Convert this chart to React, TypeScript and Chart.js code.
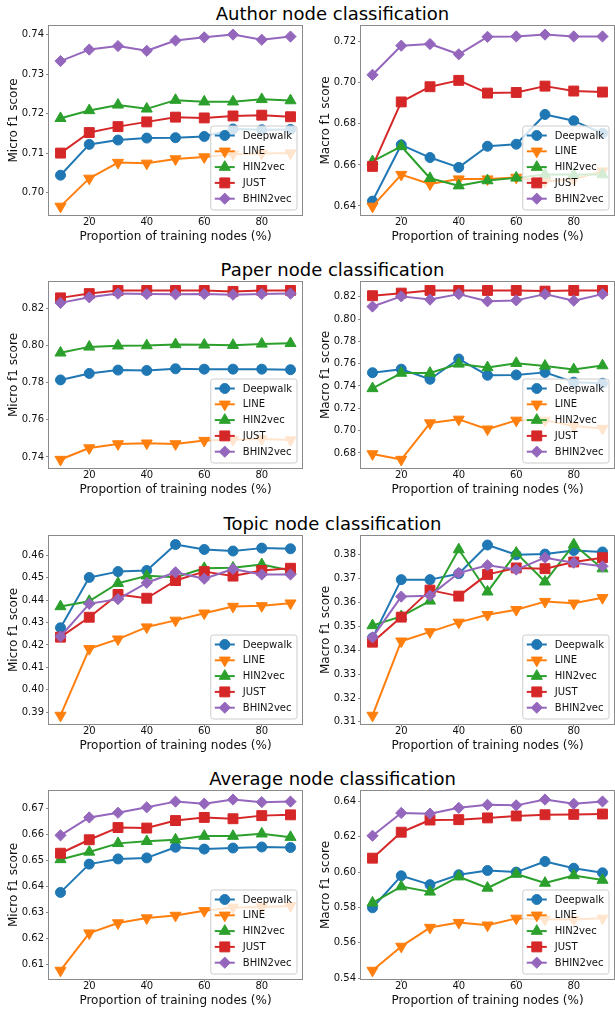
import React, { useEffect, useRef } from 'react';
import { Chart, registerables } from 'chart.js';

Chart.register(...registerables);

// ---------------- data ----------------
const X_VALUES = [10, 20, 30, 40, 50, 60, 70, 80, 90];
const X_TICKS = [20, 40, 60, 80];

const SERIES_NAMES = ['Deepwalk', 'LINE', 'HIN2vec', 'JUST', 'BHIN2vec'];
const SERIES_COLORS = ['#1f77b4', '#ff7f0e', '#2ca02c', '#d62728', '#9467bd'];

const ROW_TITLES = [
  'Author node classification',
  'Paper node classification',
  'Topic node classification',
  'Average node classification',
];
const Y_LABELS = ['Micro f1 score', 'Macro f1 score'];
const X_LABEL = 'Proportion of training nodes (%)';

// Author - micro
const AUTHOR_MICRO_DEEPWALK = [0.7044, 0.7122, 0.7133, 0.7138, 0.7139, 0.7142, 0.7161, 0.7159, 0.716];
const AUTHOR_MICRO_LINE = [0.6965, 0.7036, 0.7076, 0.7074, 0.7085, 0.709, 0.7097, 0.7099, 0.71];
const AUTHOR_MICRO_HIN2VEC = [0.7188, 0.7208, 0.7222, 0.7212, 0.7234, 0.723, 0.723, 0.7236, 0.7233];
const AUTHOR_MICRO_JUST = [0.71, 0.7152, 0.7167, 0.7179, 0.7191, 0.7189, 0.7194, 0.7196, 0.7192];
const AUTHOR_MICRO_BHIN2VEC = [0.7333, 0.7362, 0.7371, 0.7359, 0.7385, 0.7393, 0.74, 0.7387, 0.7395];
const AUTHOR_MICRO_TICKS = [0.7, 0.71, 0.72, 0.73, 0.74];

// Author - macro
const AUTHOR_MACRO_DEEPWALK = [0.6424, 0.6698, 0.6636, 0.6588, 0.6691, 0.6701, 0.6846, 0.6815, 0.6754];
const AUTHOR_MACRO_LINE = [0.6398, 0.6553, 0.6507, 0.6531, 0.6531, 0.6539, 0.652, 0.653, 0.657];
const AUTHOR_MACRO_HIN2VEC = [0.6617, 0.6691, 0.6535, 0.6499, 0.6524, 0.6537, 0.6553, 0.6553, 0.6553];
const AUTHOR_MACRO_JUST = [0.6593, 0.6907, 0.6981, 0.7012, 0.695, 0.6953, 0.6984, 0.696, 0.6955];
const AUTHOR_MACRO_BHIN2VEC = [0.7039, 0.7181, 0.7189, 0.7139, 0.7224, 0.7226, 0.7235, 0.7226, 0.7226];
const AUTHOR_MACRO_TICKS = [0.64, 0.66, 0.68, 0.7, 0.72];

// Paper - micro
const PAPER_MICRO_DEEPWALK = [0.7815, 0.785, 0.7868, 0.7866, 0.7875, 0.7873, 0.7873, 0.7873, 0.787];
const PAPER_MICRO_LINE = [0.7386, 0.7448, 0.747, 0.7474, 0.747, 0.7488, 0.7493, 0.7497, 0.7491];
const PAPER_MICRO_HIN2VEC = [0.7961, 0.7993, 0.7999, 0.8, 0.8006, 0.8004, 0.8002, 0.8009, 0.8012];
const PAPER_MICRO_JUST = [0.8257, 0.828, 0.8297, 0.8297, 0.8297, 0.8297, 0.8292, 0.8297, 0.8297];
const PAPER_MICRO_BHIN2VEC = [0.823, 0.826, 0.828, 0.8278, 0.8276, 0.8278, 0.8274, 0.8278, 0.828];
const PAPER_MICRO_TICKS = [0.74, 0.76, 0.78, 0.8, 0.82];

// Paper - macro
const PAPER_MACRO_DEEPWALK = [0.7519, 0.7551, 0.746, 0.7642, 0.7496, 0.7499, 0.7522, 0.7434, 0.7425];
const PAPER_MACRO_LINE = [0.6791, 0.6741, 0.7068, 0.7101, 0.7013, 0.7092, 0.7092, 0.7042, 0.7019];
const PAPER_MACRO_HIN2VEC = [0.7378, 0.7516, 0.7516, 0.7598, 0.7566, 0.7604, 0.758, 0.7548, 0.7583];
const PAPER_MACRO_JUST = [0.8209, 0.8232, 0.8256, 0.8256, 0.8256, 0.8256, 0.825, 0.8256, 0.8256];
const PAPER_MACRO_BHIN2VEC = [0.8112, 0.8203, 0.8174, 0.8223, 0.8159, 0.8167, 0.8223, 0.8164, 0.8223];
const PAPER_MACRO_TICKS = [0.68, 0.7, 0.72, 0.74, 0.76, 0.78, 0.8, 0.82];

// Topic - micro
const TOPIC_MICRO_DEEPWALK = [0.4277, 0.4502, 0.4528, 0.4533, 0.4649, 0.4627, 0.462, 0.4633, 0.463];
const TOPIC_MICRO_LINE = [0.3885, 0.4183, 0.4226, 0.428, 0.431, 0.4342, 0.4372, 0.4375, 0.4387];
const TOPIC_MICRO_HIN2VEC = [0.4372, 0.4396, 0.4476, 0.4509, 0.4503, 0.4543, 0.4545, 0.456, 0.4533];
const TOPIC_MICRO_JUST = [0.4235, 0.4324, 0.4426, 0.4409, 0.4488, 0.4528, 0.4508, 0.4533, 0.4543];
const TOPIC_MICRO_BHIN2VEC = [0.4238, 0.4384, 0.4405, 0.4478, 0.4525, 0.4496, 0.454, 0.4515, 0.4515];
const TOPIC_MICRO_TICKS = [0.39, 0.4, 0.41, 0.42, 0.43, 0.44, 0.45, 0.46];

// Topic - macro
const TOPIC_MACRO_DEEPWALK = [0.3452, 0.3696, 0.3696, 0.3721, 0.3841, 0.38, 0.3803, 0.3818, 0.3812];
const TOPIC_MACRO_LINE = [0.3127, 0.3438, 0.3477, 0.3517, 0.3549, 0.357, 0.3604, 0.3597, 0.362];
const TOPIC_MACRO_HIN2VEC = [0.3504, 0.3542, 0.3607, 0.3822, 0.3645, 0.3808, 0.3687, 0.3843, 0.3742];
const TOPIC_MACRO_JUST = [0.3434, 0.3539, 0.3652, 0.3627, 0.3718, 0.3745, 0.3742, 0.377, 0.3788];
const TOPIC_MACRO_BHIN2VEC = [0.3454, 0.3625, 0.3629, 0.3724, 0.3756, 0.3738, 0.3788, 0.3767, 0.3752];
const TOPIC_MACRO_TICKS = [0.31, 0.32, 0.33, 0.34, 0.35, 0.36, 0.37, 0.38];

// Average - micro
const AVERAGE_MICRO_DEEPWALK = [0.6378, 0.6487, 0.6507, 0.6511, 0.6552, 0.6545, 0.6549, 0.6553, 0.6551];
const AVERAGE_MICRO_LINE = [0.6077, 0.6221, 0.626, 0.6279, 0.6289, 0.6307, 0.632, 0.6322, 0.6326];
const AVERAGE_MICRO_HIN2VEC = [0.6505, 0.6534, 0.6567, 0.6575, 0.6581, 0.6595, 0.6595, 0.6604, 0.6591];
const AVERAGE_MICRO_JUST = [0.6529, 0.6581, 0.6628, 0.6626, 0.6655, 0.6667, 0.6662, 0.6674, 0.6677];
const AVERAGE_MICRO_BHIN2VEC = [0.6598, 0.6667, 0.6685, 0.6706, 0.6728, 0.672, 0.6736, 0.6726, 0.6728];
const AVERAGE_MICRO_TICKS = [0.61, 0.62, 0.63, 0.64, 0.65, 0.66, 0.67];

// Average - macro
const AVERAGE_MACRO_DEEPWALK = [0.5798, 0.5979, 0.5929, 0.5985, 0.6009, 0.6, 0.606, 0.6022, 0.5996];
const AVERAGE_MACRO_LINE = [0.5443, 0.5579, 0.5686, 0.5714, 0.5699, 0.5738, 0.5733, 0.5731, 0.5738];
const AVERAGE_MACRO_HIN2VEC = [0.5826, 0.5918, 0.5888, 0.5974, 0.591, 0.5989, 0.5938, 0.5981, 0.5955];
const AVERAGE_MACRO_JUST = [0.6079, 0.6226, 0.6295, 0.6297, 0.6307, 0.6318, 0.6325, 0.6327, 0.6329];
const AVERAGE_MACRO_BHIN2VEC = [0.6206, 0.6335, 0.6331, 0.6364, 0.6381, 0.6378, 0.6411, 0.6387, 0.64];
const AVERAGE_MACRO_TICKS = [0.54, 0.56, 0.58, 0.6, 0.62, 0.64];

// ---------------- styling ----------------
const FONT = '"DejaVu Sans", "Liberation Sans", sans-serif';
const FRAME_COLOR = '#8a8a8a';
const TEXT_COLOR = '#111';
const SERIES_POINT_STYLE = ['circle', 'triangle', 'triangle', 'rect', 'rectRot'];
const SERIES_POINT_ROTATION = [180 * 0, 180, 0, 0, 0];
const SERIES_POINT_RADIUS = [5, 6.4, 6.4, 7, 5.6];

// panels built from the arrays above: rows x columns
const PANELS = [
  [
    { series: [AUTHOR_MICRO_DEEPWALK, AUTHOR_MICRO_LINE, AUTHOR_MICRO_HIN2VEC, AUTHOR_MICRO_JUST, AUTHOR_MICRO_BHIN2VEC], ticks: AUTHOR_MICRO_TICKS },
    { series: [AUTHOR_MACRO_DEEPWALK, AUTHOR_MACRO_LINE, AUTHOR_MACRO_HIN2VEC, AUTHOR_MACRO_JUST, AUTHOR_MACRO_BHIN2VEC], ticks: AUTHOR_MACRO_TICKS },
  ],
  [
    { series: [PAPER_MICRO_DEEPWALK, PAPER_MICRO_LINE, PAPER_MICRO_HIN2VEC, PAPER_MICRO_JUST, PAPER_MICRO_BHIN2VEC], ticks: PAPER_MICRO_TICKS },
    { series: [PAPER_MACRO_DEEPWALK, PAPER_MACRO_LINE, PAPER_MACRO_HIN2VEC, PAPER_MACRO_JUST, PAPER_MACRO_BHIN2VEC], ticks: PAPER_MACRO_TICKS },
  ],
  [
    { series: [TOPIC_MICRO_DEEPWALK, TOPIC_MICRO_LINE, TOPIC_MICRO_HIN2VEC, TOPIC_MICRO_JUST, TOPIC_MICRO_BHIN2VEC], ticks: TOPIC_MICRO_TICKS },
    { series: [TOPIC_MACRO_DEEPWALK, TOPIC_MACRO_LINE, TOPIC_MACRO_HIN2VEC, TOPIC_MACRO_JUST, TOPIC_MACRO_BHIN2VEC], ticks: TOPIC_MACRO_TICKS },
  ],
  [
    { series: [AVERAGE_MICRO_DEEPWALK, AVERAGE_MICRO_LINE, AVERAGE_MICRO_HIN2VEC, AVERAGE_MICRO_JUST, AVERAGE_MICRO_BHIN2VEC], ticks: AVERAGE_MICRO_TICKS },
    { series: [AVERAGE_MACRO_DEEPWALK, AVERAGE_MACRO_LINE, AVERAGE_MACRO_HIN2VEC, AVERAGE_MACRO_JUST, AVERAGE_MACRO_BHIN2VEC], ticks: AVERAGE_MACRO_TICKS },
  ],
];

// layout (page pixels)
const ROW_AREAS = [
  [23, 215],
  [279, 468],
  [533, 724],
  [788, 979],
];
const COL_LEFT = [0, 312];
const Y_AXIS_W = 49;
const AREA_W = 256;
const PAD_RIGHT = 5;
const PAD_TOP = 5;
const X_AXIS_H = 30;

function limits(values: number[]) {
  const lo = Math.min(...values);
  const hi = Math.max(...values);
  const m = (hi - lo) * 0.05;
  return [lo - m, hi + m];
}

function drawMarker(ctx: CanvasRenderingContext2D, style: string, rotationDeg: number, r: number, x: number, y: number) {
  ctx.beginPath();
  if (style === 'circle') {
    ctx.arc(x, y, r, 0, Math.PI * 2);
  } else if (style === 'triangle') {
    let rad = (rotationDeg * Math.PI) / 180;
    ctx.moveTo(x + Math.sin(rad) * r, y - Math.cos(rad) * r);
    rad += (2 * Math.PI) / 3;
    ctx.lineTo(x + Math.sin(rad) * r, y - Math.cos(rad) * r);
    rad += (2 * Math.PI) / 3;
    ctx.lineTo(x + Math.sin(rad) * r, y - Math.cos(rad) * r);
    ctx.closePath();
  } else if (style === 'rect') {
    const s = Math.SQRT1_2 * r;
    ctx.rect(x - s, y - s, 2 * s, 2 * s);
  } else {
    ctx.moveTo(x, y - r);
    ctx.lineTo(x + r, y);
    ctx.lineTo(x, y + r);
    ctx.lineTo(x - r, y);
    ctx.closePath();
  }
  ctx.fill();
  ctx.stroke();
}

const frameLegendPlugin = {
  id: 'frameLegend',
  afterDatasetsDraw(chart: any) {
    const { ctx, chartArea: a } = chart;
    ctx.save();
    // axes frame
    ctx.strokeStyle = FRAME_COLOR;
    ctx.lineWidth = 1;
    ctx.strokeRect(a.left - 0.5, a.top - 0.5, a.right - a.left + 1, a.bottom - a.top + 1);

    // legend (lower right, inside the axes)
    ctx.font = `10px ${FONT}`;
    const datasets = chart.data.datasets;
    const tw = Math.max(...datasets.map((d: any) => ctx.measureText(d.label).width));
    const w = 4 + 20 + 8 + tw + 5;
    const pitch = 15.8;
    const h = 84;
    const x0 = a.right - 5 - w;
    const y0 = a.bottom - 5 - h;
    ctx.beginPath();
    (ctx as any).roundRect(x0, y0, w, h, 2.5);
    ctx.fillStyle = 'rgba(255,255,255,0.8)';
    ctx.fill();
    ctx.strokeStyle = '#cccccc';
    ctx.lineWidth = 1;
    ctx.stroke();

    datasets.forEach((d: any, i: number) => {
      const cy = y0 + 9.5 + i * pitch;
      ctx.strokeStyle = d.borderColor;
      ctx.lineWidth = 2;
      ctx.beginPath();
      ctx.moveTo(x0 + 4, cy);
      ctx.lineTo(x0 + 24, cy);
      ctx.stroke();
      ctx.fillStyle = d.borderColor;
      ctx.lineWidth = 1;
      drawMarker(ctx, d.pointStyle, d.pointRotation, d.pointRadius, x0 + 14, cy);
      ctx.fillStyle = TEXT_COLOR;
      ctx.textAlign = 'left';
      ctx.textBaseline = 'middle';
      ctx.fillText(d.label, x0 + 32, cy + 0.5);
    });
    ctx.restore();
  },
};

function Panel({ row, col }: { row: number; col: number }) {
  const ref = useRef<HTMLCanvasElement | null>(null);
  const panel = PANELS[row][col];
  const [top, bottom] = ROW_AREAS[row];
  const canvasW = Y_AXIS_W + AREA_W + PAD_RIGHT;
  const canvasH = bottom - top + PAD_TOP + X_AXIS_H;

  useEffect(() => {
    if (!ref.current) return;
    const [xmin, xmax] = limits(X_VALUES);
    const [ymin, ymax] = limits(panel.series.flat());
    const chart = new Chart(ref.current, {
      type: 'line',
      data: {
        datasets: panel.series.map((vals, i) => ({
          label: SERIES_NAMES[i],
          data: X_VALUES.map((x, k) => ({ x, y: vals[k] })),
          borderColor: SERIES_COLORS[i],
          backgroundColor: SERIES_COLORS[i],
          borderWidth: 2,
          borderJoinStyle: 'round',
          pointStyle: SERIES_POINT_STYLE[i],
          pointRotation: SERIES_POINT_ROTATION[i],
          pointRadius: SERIES_POINT_RADIUS[i],
          pointBorderWidth: 1,
          pointBackgroundColor: SERIES_COLORS[i],
          pointBorderColor: SERIES_COLORS[i],
          tension: 0,
          order: SERIES_NAMES.length - 1 - i,
        })),
      } as any,
      options: {
        responsive: false,
        animation: false,
        events: [],
        layout: { padding: { left: 0, right: PAD_RIGHT, top: PAD_TOP, bottom: 0 } },
        plugins: { legend: { display: false }, tooltip: { enabled: false } },
        scales: {
          x: {
            type: 'linear',
            min: xmin,
            max: xmax,
            bounds: 'data',
            afterBuildTicks: (s: any) => {
              s.ticks = X_TICKS.map((v) => ({ value: v }));
            },
            afterFit: (s: any) => {
              s.height = X_AXIS_H;
              s.paddingLeft = 0;
              s.paddingRight = 0;
            },
            grid: { display: true, drawOnChartArea: false, drawTicks: true, tickLength: 3, color: FRAME_COLOR, lineWidth: 1 },
            border: { display: false },
            ticks: {
              font: { family: FONT, size: 10, lineHeight: 1 },
              color: TEXT_COLOR,
              padding: -1,
              maxRotation: 0,
              autoSkip: false,
              callback: (v: any) => String(v),
            },
            title: {
              display: true,
              text: X_LABEL,
              font: { family: FONT, size: 12, lineHeight: 1 },
              color: TEXT_COLOR,
              padding: { top: 0, bottom: 2.5 },
            },
          },
          y: {
            type: 'linear',
            min: ymin,
            max: ymax,
            bounds: 'data',
            afterBuildTicks: (s: any) => {
              s.ticks = panel.ticks.map((v) => ({ value: v }));
            },
            afterFit: (s: any) => {
              s.width = Y_AXIS_W;
              s.paddingTop = 0;
              s.paddingBottom = 0;
            },
            grid: { display: true, drawOnChartArea: false, drawTicks: true, tickLength: 3, color: FRAME_COLOR, lineWidth: 1 },
            border: { display: false },
            ticks: {
              font: { family: FONT, size: 10, lineHeight: 1.2 },
              color: TEXT_COLOR,
              padding: 2,
              autoSkip: false,
              callback: (v: any) => Number(v).toFixed(2),
            },
            title: {
              display: true,
              text: Y_LABELS[col],
              font: { family: FONT, size: 12, lineHeight: 1 },
              color: TEXT_COLOR,
              padding: { top: 8, bottom: 0 },
            },
          },
        },
      } as any,
      plugins: [frameLegendPlugin],
    });
    return () => chart.destroy();
  }, [row, col]);

  return (
    <canvas
      ref={ref}
      width={canvasW}
      height={canvasH}
      style={{
        position: 'absolute',
        left: COL_LEFT[col],
        top: top - PAD_TOP,
        width: canvasW,
        height: canvasH,
      }}
    />
  );
}

export default function App() {
  return (
    <div
      style={{
        position: 'absolute',
        left: 0,
        top: 0,
        width: 615,
        height: 1013,
        overflow: 'hidden',
        background: '#fff',
      }}
    >
      {ROW_TITLES.map((t, r) => (
        <div
          key={t}
          style={{
            position: 'absolute',
            left: 0,
            width: 665,
            top: ROW_AREAS[r][0] - 2.7 - 15.2,
            textAlign: 'center',
            fontFamily: FONT,
            fontSize: 18,
            lineHeight: '18px',
            color: '#000',
            whiteSpace: 'nowrap',
          }}
        >
          {t}
        </div>
      ))}
      {PANELS.map((cols, r) => cols.map((_, c) => <Panel key={`${r}-${c}`} row={r} col={c} />))}
    </div>
  );
}
